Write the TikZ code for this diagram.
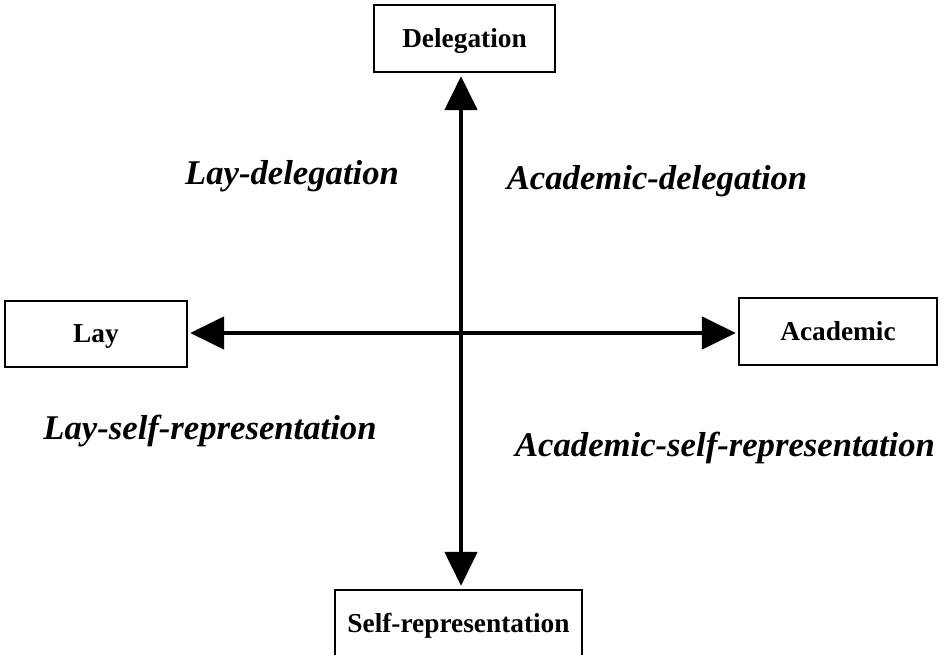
\documentclass[tikz,border=0pt]{standalone}
\usepackage{fontspec}
\setmainfont{Liberation Serif}
\usetikzlibrary{arrows.meta}
\begin{document}
\begin{tikzpicture}[x=0.75pt,y=0.75pt,
  box/.style={draw,line width=1.7pt,inner sep=0pt,text height=13.5pt,text depth=0pt,font=\bfseries\fontsize{20.5}{24}\selectfont},
  quad/.style={anchor=base,font=\bfseries\itshape\fontsize{26}{30}\selectfont},
  axis/.style={line width=3.6pt,{Triangle[length=34*0.75pt,width=32*0.75pt]}-{Triangle[length=34*0.75pt,width=32*0.75pt]}}]
\useasboundingbox (0,0) rectangle (944,655);

\node[box,minimum width=181*0.75pt,minimum height=67*0.75pt] (del) at (464.5,616.5) {Delegation};
\node[box,minimum width=182*0.75pt,minimum height=66*0.75pt] (lay) at (96,321) {Lay};
\node[box,minimum width=198*0.75pt,minimum height=67*0.75pt] (aca) at (838,323.5) {Academic};
\node[box,minimum width=247*0.75pt,minimum height=67*0.75pt] (self) at (458.5,31.5) {Self-representation};

\coordinate (c) at (461,322);
\draw[axis,shorten <=3*0.75pt,shorten >=3*0.75pt] (c |- self.north) -- (c |- del.south);
\draw[axis,shorten <=2*0.75pt,shorten >=2*0.75pt] (lay.east |- c) -- (aca.west |- c);

\node[quad] (ld) at (292,470) {Lay-delegation};
\node[quad] (ad) at (657,465) {Academic-delegation};
\node[quad] (ls) at (210,215) {Lay-self-representation};
\node[quad] (as) at (725,198) {Academic-self-representation};
\end{tikzpicture}
\end{document}
